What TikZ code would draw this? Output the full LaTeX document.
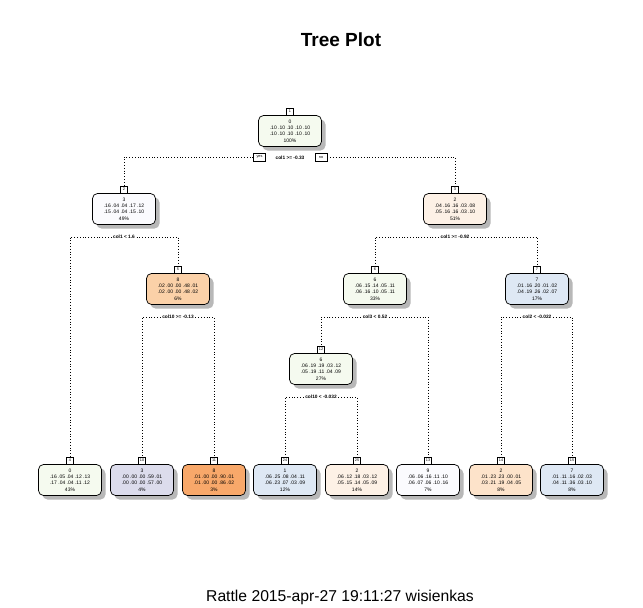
\documentclass[tikz,border=0pt]{standalone}
\usepackage{fontspec}
\setmainfont{Liberation Sans}
\usetikzlibrary{positioning,shadows}

\definecolor{leafgreen}{HTML}{F5FAEF}
\definecolor{leafwhite}{HTML}{FBFBFE}
\definecolor{leafpeach}{HTML}{FDF1E6}
\definecolor{leaftan}{HTML}{FDE3CA}
\definecolor{leaforange}{HTML}{FBD1A8}
\definecolor{deeporange}{HTML}{F8A86A}
\definecolor{leafblue}{HTML}{DEE8F4}
\definecolor{leaflilac}{HTML}{DCDCEC}

\tikzset{
  treebox/.style={draw, line width=0.7pt, rounded corners=5pt,
    minimum width=63pt, minimum height=31pt, inner sep=0pt, align=center,
    font=\fontsize{5}{6.3}\selectfont,
    drop shadow={shadow xshift=4pt, shadow yshift=-4pt, fill=black!28, opacity=1}},
  numbox/.style={draw, fill=white, line width=0.6pt, minimum size=6.5pt,
    inner sep=0pt, font=\fontsize{3.8}{4}\selectfont},
  yesno/.style={draw, fill=white, line width=0.7pt, minimum width=12pt,
    minimum height=8pt, inner sep=0pt, font=\fontsize{3.8}{4}\selectfont},
  splitlbl/.style={fill=white, inner sep=1.5pt, font=\bfseries\fontsize{4.8}{5}\selectfont},
  edge/.style={dotted, line width=0.8pt},
}

\begin{document}
\begin{tikzpicture}[x=1pt, y=-1pt]
  \path[fill=white] (0,0) rectangle (643,608);

  % Title and footer
  \node[font=\bfseries\fontsize{19}{22}\selectfont] (title) at (341,40) {Tree Plot};
  \node[font=\fontsize{15.7}{18}\selectfont] (footer) at (340,597) {Rattle 2015-apr-27 19:11:27 wisienkas};

  % Inner nodes
  \node[treebox, fill=leafgreen] (n1) at (290,131) {0\\.10 .10 .10 .10 .10\\.10 .10 .10 .10 .10\\100\%};
  \node[treebox, fill=leafwhite] (n2) at (124,209) {3\\.16 .04 .04 .17 .12\\.15 .04 .04 .15 .10\\49\%};
  \node[treebox, fill=leafpeach] (n3) at (455,209) {2\\.04 .16 .16 .03 .08\\.05 .16 .16 .03 .10\\51\%};
  \node[treebox, fill=leaforange] (n5) at (178,289) {8\\.02 .00 .00 .48 .01\\.02 .00 .00 .48 .02\\6\%};
  \node[treebox, fill=leafgreen] (n6) at (375,289) {6\\.06 .15 .14 .05 .11\\.06 .16 .10 .05 .11\\33\%};
  \node[treebox, fill=leafblue] (n7) at (537,289) {7\\.01 .16 .20 .01 .02\\.04 .19 .26 .02 .07\\17\%};
  \node[treebox, fill=leafgreen] (n12) at (321,369) {6\\.06 .19 .19 .03 .12\\.05 .19 .11 .04 .09\\27\%};

  % Leaves
  \node[treebox, fill=leafgreen] (n4) at (70,480) {0\\.16 .05 .04 .12 .13\\.17 .04 .04 .11 .12\\43\%};
  \node[treebox, fill=leaflilac] (n10) at (142,480) {3\\.00 .00 .00 .59 .01\\.00 .00 .00 .57 .00\\4\%};
  \node[treebox, fill=deeporange] (n11) at (214,480) {8\\.01 .00 .00 .90 .01\\.01 .00 .00 .86 .02\\3\%};
  \node[treebox, fill=leafblue] (n24) at (285,480) {1\\.06 .25 .08 .04 .11\\.06 .23 .07 .03 .09\\12\%};
  \node[treebox, fill=leafpeach] (n25) at (357,480) {2\\.06 .12 .18 .03 .12\\.05 .15 .14 .05 .09\\14\%};
  \node[treebox, fill=leafwhite] (n13) at (428,480) {9\\.06 .06 .16 .11 .10\\.06 .07 .06 .10 .16\\7\%};
  \node[treebox, fill=leaftan] (n14) at (501,480) {2\\.01 .23 .23 .00 .01\\.03 .21 .19 .04 .05\\8\%};
  \node[treebox, fill=leafblue] (n15) at (572,480) {7\\.01 .11 .16 .02 .03\\.04 .11 .36 .03 .10\\8\%};

  % Node numbers
  \foreach \n in {1,2,3,4,5,6,7,10,11,12,13,14,15,24,25}
    \node[numbox, above=0pt of n\n] (k\n) {\n};

  % Split labels
  \node[splitlbl] (s1) at (290,158) {col1 >= -0.33};
  \node[yesno] (yes) at (259.5,157) {yes};
  \node[yesno] (no) at (321,157) {no};
  \node[splitlbl] (s2) at (124,237) {col1 < 1.6};
  \node[splitlbl] (s3) at (455,237) {col1 >= -0.92};
  \node[splitlbl] (s5) at (178,317) {col10 >= -0.13};
  \node[splitlbl] (s6) at (375,317) {col3 < 0.52};
  \node[splitlbl] (s7) at (537,317) {col2 < -0.022};
  \node[splitlbl] (s12) at (321,397) {col10 < -0.032};

  % Branches
  \draw[edge] (yes.west) -| (k2.north);
  \draw[edge] (no.east) -| (k3.north);
  \draw[edge] (s2.west) -| (k4.north);
  \draw[edge] (s2.east) -| (k5.north);
  \draw[edge] (s3.west) -| (k6.north);
  \draw[edge] (s3.east) -| (k7.north);
  \draw[edge] (s5.west) -| (k10.north);
  \draw[edge] (s5.east) -| (k11.north);
  \draw[edge] (s6.west) -| (k12.north);
  \draw[edge] (s6.east) -| (k13.north);
  \draw[edge] (s7.west) -| (k14.north);
  \draw[edge] (s7.east) -| (k15.north);
  \draw[edge] (s12.west) -| (k24.north);
  \draw[edge] (s12.east) -| (k25.north);
\end{tikzpicture}
\end{document}
